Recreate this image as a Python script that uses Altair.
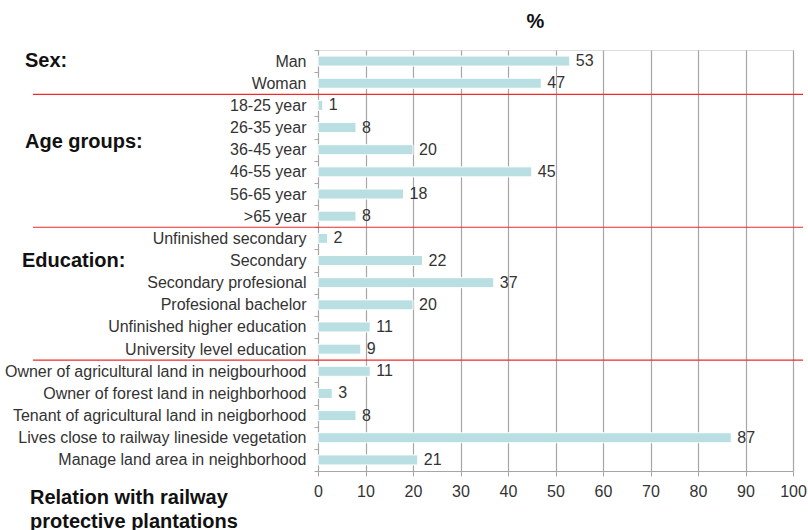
import altair as alt
import pandas as pd

# Respondent profile (% of respondents)
categories = [
    "Man", "Woman",
    "18-25 year", "26-35 year", "36-45 year", "46-55 year", "56-65 year", ">65 year",
    "Unfinished secondary\u00a0", "Secondary", "Secondary profesional", "Profesional bachelor",
    "Unfinished higher education", "University level education",
    "Owner of agricultural land in neigbourhood", "Owner of forest land in neighborhood",
    "Tenant of agricultural land in neigborhood", "Lives close to railway lineside vegetation",
    "Manage land area in neighborhood",
]
values = [53, 47, 1, 8, 20, 45, 18, 8, 2, 22, 37, 20, 11, 9, 11, 3, 8, 87, 21]
x_ticks = list(range(0, 101, 10))

# first category of each group after the first one: a red separator sits above it
group_starts = ["18-25 year", "Unfinished secondary\u00a0", "Owner of agricultural land in neigbourhood"]

df = pd.DataFrame({"category": categories, "value": values})
sep_df = pd.DataFrame({"category": group_starts})

FONT = "Liberation Sans"
TEXT_COLOR = "#333333"
BAR_COLOR = "#b9dfe3"
GRID_COLOR = "#a6a6a6"
LABEL_SIZE = 16

y_enc = alt.Y(
    "category:N",
    sort=categories,
    title=None,
    scale=alt.Scale(paddingInner=0, paddingOuter=0),
    axis=alt.Axis(
        labelFont=FONT, labelFontSize=LABEL_SIZE, labelColor=TEXT_COLOR,
        labelPadding=8, labelLimit=500, tickBand="extent", tickSize=4,
        tickColor=GRID_COLOR, domainColor=GRID_COLOR, grid=False,
    ),
)
x_enc = alt.X(
    "value:Q",
    title=None,
    scale=alt.Scale(domain=[0, 100], nice=False),
    axis=alt.Axis(
        values=x_ticks, labelFont=FONT, labelFontSize=LABEL_SIZE, labelColor=TEXT_COLOR,
        labelPadding=7, labelFlush=False, labelOverlap=False, tickSize=5,
        tickColor=GRID_COLOR, domainColor=GRID_COLOR,
        grid=True, gridColor=GRID_COLOR, gridWidth=1.2,
    ),
)

bars = alt.Chart(df).mark_bar(
    size=10, color=BAR_COLOR, stroke="white", strokeWidth=1
).encode(x=x_enc, y=y_enc)

value_labels = alt.Chart(df).mark_text(
    align="left", baseline="middle", dx=6, font=FONT, fontSize=LABEL_SIZE, color=TEXT_COLOR
).encode(x="value:Q", y=alt.Y("category:N", sort=categories), text="value:Q")

separators = alt.Chart(sep_df).mark_rule(color="#ee2a2a", strokeWidth=1.2).encode(
    y=alt.Y("category:N", sort=categories, bandPosition=0),
    x=alt.value(-285),
    x2=alt.value(485),
)


def group_heading(label, anchor, dx, dy):
    return alt.Chart(pd.DataFrame({"label": [label], "category": [anchor]})).mark_text(
        align="left", baseline="middle", dx=dx, dy=dy, font=FONT, fontSize=20,
        fontWeight="bold", color="#111111", lineBreak="\n", lineHeight=24,
    ).encode(
        x=alt.value(0),
        y=alt.Y("category:N", sort=categories),
        text="label:N",
    )


headings = (
    group_heading("Sex:", "Man", -293, 0)
    + group_heading("Age groups:", "36-45 year", -293, -8)
    + group_heading("Education:", "Secondary", -296, 0)
    + group_heading("Relation with railway\nprotective plantations", "Manage land area in neighborhood", -288, 38)
)

chart = (
    alt.layer(bars, value_labels, separators, headings)
    .properties(
        width=475,
        height=421,
        title=alt.TitleParams("%", font=FONT, fontSize=20, fontWeight="bold",
                              color="#111111", anchor="middle", dx=-20, offset=10),
        padding={"left": 318, "top": 50, "right": 15, "bottom": 59},
        autosize=alt.AutoSizeParams(type="none"),
    )
    .configure_view(stroke=None)
    .configure(background="white")
)

chart.save("out.html", embed_options={"renderer": "svg", "actions": False})
